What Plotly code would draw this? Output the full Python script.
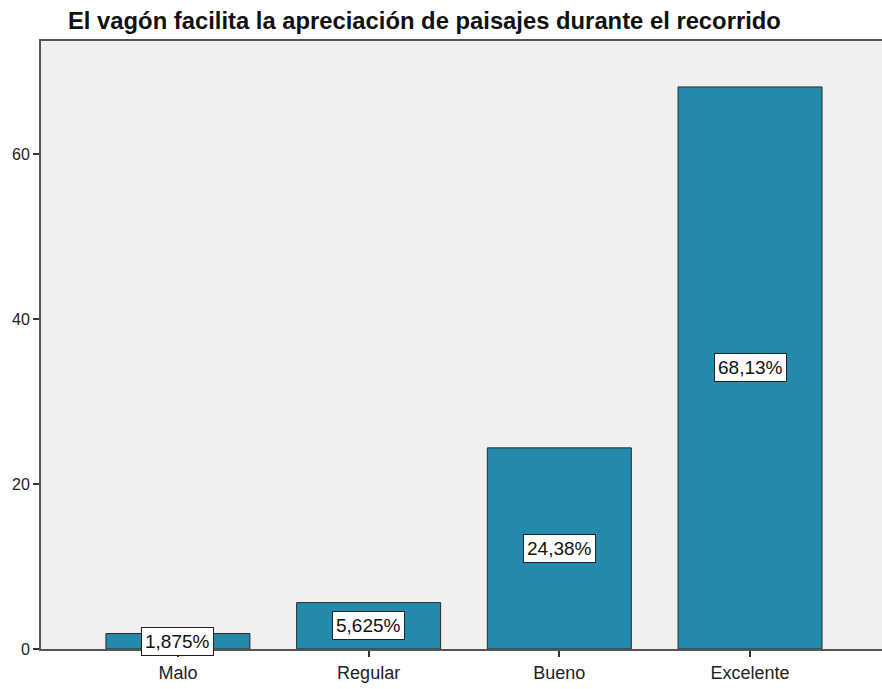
import plotly.graph_objects as go

categories = ["Malo", "Regular", "Bueno", "Excelente"]
values = [1.875, 5.625, 24.38, 68.13]
labels = ["1,875%", "5,625%", "24,38%", "68,13%"]
title = "El vagón facilita la apreciación de paisajes durante el recorrido"

W, H = 882, 689
fig = go.Figure()
fig.add_trace(go.Bar(
    x=list(range(len(categories))), y=values, width=0.755,
    marker=dict(color="#238aab", line=dict(color="#2a2a2a", width=1)),
    hoverinfo="skip",
))
for i, (v, lab) in enumerate(zip(values, labels)):
    fig.add_annotation(x=i, y=v / 2, text=lab, showarrow=False,
                       font=dict(family="Liberation Sans, Arial", size=19, color="#111"),
                       bgcolor="white", bordercolor="#222", borderwidth=1, borderpad=3)

fig.update_layout(
    width=W, height=H,
    margin=dict(l=41, r=0, t=41, b=40),
    paper_bgcolor="white", plot_bgcolor="#f0f0f0",
    showlegend=False,
    title=dict(text="<b>" + title + "</b>", x=68 / W, xanchor="left", xref="container",
               y=1 - 21 / H, yanchor="middle",
               font=dict(family="Liberation Sans, Arial", size=23.8, color="#111")),
    font=dict(family="Liberation Sans, Arial", size=14, color="#222"),
)
fig.update_xaxes(
    range=[-0.718, 3.692], tickmode="array", tickvals=list(range(len(categories))),
    ticktext=categories, ticks="outside", ticklen=6, tickcolor="#333", tickwidth=2,
    showline=True, linecolor="#555", linewidth=2, mirror=True, automargin=False,
    showgrid=False, zeroline=False, tickfont=dict(size=18, color="#222"),
)
fig.update_yaxes(
    range=[0, 73.7], tickvals=[0, 20, 40, 60], ticks="outside", ticklen=6,
    tickcolor="#333", tickwidth=2, showline=True, linecolor="#555", linewidth=2,
    automargin=False,
    showgrid=False, zeroline=False, tickfont=dict(size=16, color="#222"),
)
fig.write_html("out.html", config={"displayModeBar": False},
               post_script="document.body.style.margin='0';document.body.style.padding='0';")
